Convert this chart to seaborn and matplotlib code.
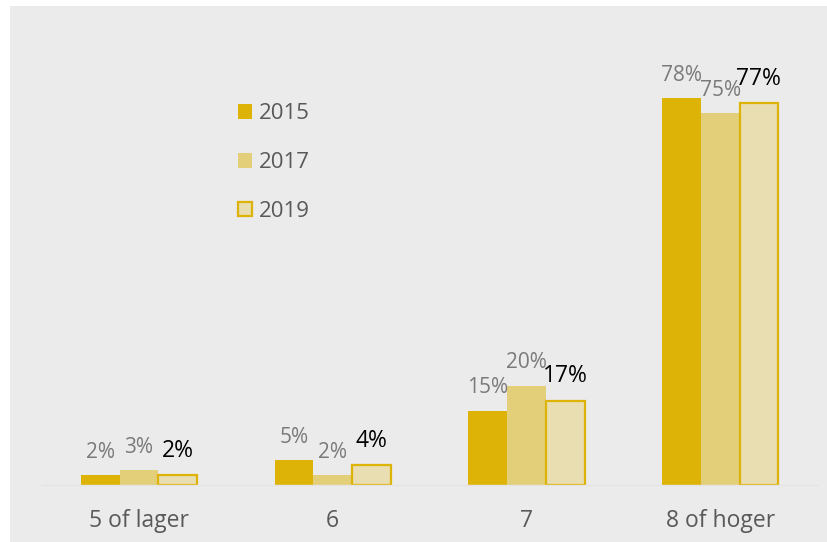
import numpy as np
import pandas as pd
import matplotlib
matplotlib.use('Agg')
import matplotlib.pyplot as plt
from matplotlib.patches import Rectangle
import seaborn as sns

categories = ['5 of lager', '6', '7', '8 of hoger']
years = ['2015', '2017', '2019']
vals_2015 = [2, 5, 15, 78]
vals_2017 = [3, 2, 20, 75]
vals_2019 = [2, 4, 17, 77]

colors = {'2015': '#deb308', '2017': '#e3ce7a', '2019': '#e9ddb2'}
edge_2019 = '#deb308'

rows = []
for yr, vals in zip(years, [vals_2015, vals_2017, vals_2019]):
    for cat, v in zip(categories, vals):
        rows.append({'cat': cat, 'year': yr, 'pct': v})
df = pd.DataFrame(rows)

sns.set_style('white')
plt.rcParams['font.family'] = ['Open Sans', 'DejaVu Sans']

fig = plt.figure(figsize=(8.27, 5.42), dpi=100)
fig.patches.append(Rectangle((10 / 827, 0), 1, 1 - 6 / 542, transform=fig.transFigure,
                             facecolor='#ebebeb', edgecolor='none', zorder=-10))
ax = fig.add_axes([42 / 827, 57 / 542, 775 / 827, (485 - 38.6) / 542])
ax.set_facecolor('none')

sns.barplot(data=df, x='cat', y='pct', hue='year', hue_order=years, order=categories,
            palette=colors, width=0.6, gap=0, ax=ax, saturation=1, legend=False)

for yr, cont in zip(years, ax.containers):
    for bar in cont:
        if yr == '2019':
            bar.set_edgecolor(edge_2019)
            bar.set_linewidth(1.6)
        else:
            bar.set_edgecolor('none')
    lab_color = '#000000' if yr == '2019' else '#7a7a7a'
    lab_size = 16.5 if yr == '2019' else 15
    ax.bar_label(cont, labels=[f'{int(round(b.get_height()))}%' for b in cont],
                 padding=9, color=lab_color, fontsize=lab_size)

ax.set_xlim(-0.5, 3.5)
ax.set_ylim(0, 90)
ax.set_yticks([])
ax.set_xlabel('')
ax.set_ylabel('')
ax.tick_params(axis='x', length=0, pad=17, labelsize=16.5, labelcolor='#595959')
for s in ['top', 'right', 'left']:
    ax.spines[s].set_visible(False)
ax.spines['bottom'].set_color('#e4e4e4')
ax.spines['bottom'].set_linewidth(1)

handles = [Rectangle((0, 0), 1, 1, facecolor=colors['2015'], edgecolor='none'),
           Rectangle((0, 0), 1, 1, facecolor=colors['2017'], edgecolor='none'),
           Rectangle((0, 0), 1, 1, facecolor=colors['2019'], edgecolor=edge_2019, linewidth=1.6)]
leg = ax.legend(handles, years, loc='upper left', bbox_to_anchor=(0.227, 0.90),
                frameon=False, handlelength=0.65, handleheight=0.65, handletextpad=0.3,
                labelspacing=1.25, fontsize=16, labelcolor='#595959')

fig.savefig('out.png', dpi=100, facecolor='white')
